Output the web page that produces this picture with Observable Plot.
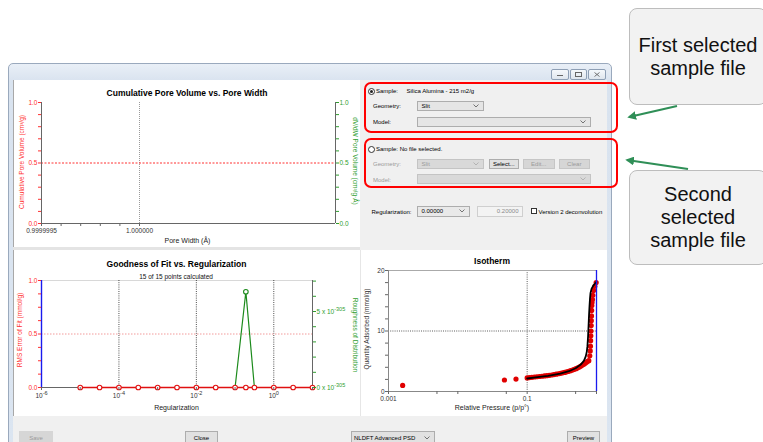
<!DOCTYPE html>
<html><head><meta charset="utf-8">
<script src="https://cdn.jsdelivr.net/npm/d3@7"></script>
<script src="https://cdn.jsdelivr.net/npm/@observablehq/plot@0.6"></script>
<style>
html,body{margin:0;padding:0;background:#fff;width:763px;height:442px;overflow:hidden;font-family:Arial,"Liberation Sans",sans-serif;}
#root{position:relative;width:763px;height:442px;overflow:hidden;}
.abs{position:absolute;}
.t{position:absolute;transform:translate(-50%,-50%);white-space:nowrap;line-height:1;}
.title{font-weight:bold;font-size:8.5px;color:#000;}
.al{font-size:7px;color:#222;}
.yl{font-size:6.5px;}
.ui{position:absolute;font-size:6px;color:#000;white-space:nowrap;line-height:1;}
.dd{position:absolute;box-sizing:border-box;border:1px solid #adadad;background:#e5e5e5;font-size:6px;line-height:1;padding-left:4px;display:flex;align-items:center;}
.dd.dis{border-color:#c4c4c4;background:#d9d9d9;color:#9a9a9a;}
.dd svg{position:absolute;right:4px;top:50%;margin-top:-2px;}
.btn{position:absolute;box-sizing:border-box;border:1px solid #adadad;background:#e1e1e1;font-size:6px;display:flex;align-items:center;justify-content:center;line-height:1;}
.btn.dis{border-color:#c6c6c6;background:#d6d6d6;color:#9a9a9a;}
.wb{position:absolute;top:69px;height:9px;border:1px solid #8e9fb5;border-radius:2px;background:linear-gradient(#f5f8fb,#dfe6ee);}
.callout{position:absolute;box-sizing:border-box;background:#f2f2f2;border:1px solid #bdbdbd;border-radius:8px;font-size:20px;line-height:23px;color:#111;display:flex;align-items:center;justify-content:center;text-align:center;}
</style></head><body>
<div id="root">
  <!-- window frame -->
  <div class="abs" style="left:8px;top:63px;width:602px;height:400px;border:1px solid #9aa9bd;border-radius:5px 5px 0 0;background:linear-gradient(#e9eff7,#d9e3ef 17px,#dbe5f1);"></div>
  <div class="wb" style="left:551px;width:16px;"><div class="abs" style="left:5px;top:5px;width:6px;height:1px;background:#666;"></div></div>
  <div class="wb" style="left:570px;width:15px;"><div class="abs" style="left:4px;top:2px;width:5px;height:3px;border:1px solid #666;"></div></div>
  <div class="wb" style="left:588px;width:16px;"><svg class="abs" style="left:5px;top:2px;" width="6" height="5"><path d="M0.5 0.5L5.5 4.5M5.5 0.5L0.5 4.5" stroke="#666" stroke-width="0.9"/></svg></div>
  <!-- client -->
  <div class="abs" style="left:13px;top:80px;width:594px;height:370px;background:#f0f0f0;"></div>
  <div class="abs" style="left:13px;top:80px;width:347px;height:167px;background:#fff;border-left:1px solid #a8a8a8;box-sizing:border-box;"></div>
  <div class="abs" style="left:13px;top:247px;width:347px;height:3px;background:#e4e4e4;"></div>
  <div class="abs" style="left:13px;top:250px;width:347px;height:166px;background:#fff;border-left:1px solid #a8a8a8;box-sizing:border-box;"></div>
  <div class="abs" style="left:360px;top:250px;width:247px;height:166px;background:#fff;border-left:1px solid #e6e6e6;box-sizing:border-box;"></div>

  <!-- chart texts -->
  <div class="t title" style="left:187px;top:93px;">Cumulative Pore Volume vs. Pore Width</div>
  <div class="t al" style="left:187.5px;top:239.5px;">Pore Width (Å)</div>
  <div class="t yl" style="left:22px;top:162px;transform:translate(-50%,-50%) rotate(-90deg);color:#ff3030;">Cumulative Pore Volume (cm³/g)</div>
  <div class="t yl" style="left:355px;top:161px;transform:translate(-50%,-50%) rotate(90deg);color:#2f9e2f;">dV/dW Pore Volume (cm³/g·Å)</div>

  <div class="t title" style="left:176.5px;top:263.5px;">Goodness of Fit vs. Regularization</div>
  <div class="t" style="left:176px;top:276.5px;font-size:6.5px;color:#111;">15 of 15 points calculated</div>
  <div class="t al" style="left:176.5px;top:406.5px;">Regularization</div>
  <div class="t yl" style="left:20px;top:330px;transform:translate(-50%,-50%) rotate(-90deg);color:#ff3030;">RMS Error of Fit (mmol/g)</div>
  <div class="t yl" style="left:355px;top:335px;transform:translate(-50%,-50%) rotate(90deg);color:#2f9e2f;">Roughness of Distribution</div>

  <div class="t title" style="left:492px;top:261px;">Isotherm</div>
  <div class="t al" style="left:492px;top:407px;">Relative Pressure (p/p°)</div>
  <div class="t yl" style="left:367px;top:329px;transform:translate(-50%,-50%) rotate(-90deg);color:#333;">Quantity Adsorbed (mmol/g)</div>

  <!-- right panel controls -->
  <div class="abs" style="left:367.5px;top:88px;width:5px;height:5px;border:1px solid #333;border-radius:50%;background:#fff;"><div class="abs" style="left:1px;top:1px;width:3px;height:3px;border-radius:50%;background:#222;"></div></div>
  <div class="ui" style="left:376px;top:88px;">Sample:</div>
  <div class="ui" style="left:406.5px;top:88px;">Silica Alumina - 215 m2/g</div>
  <div class="ui" style="left:373px;top:102.5px;">Geometry:</div>
  <div class="dd" style="left:416.5px;top:100.5px;width:67px;height:10.5px;">Slit<svg width="6" height="4"><path d="M0.5 0.5L3 3L5.5 0.5" fill="none" stroke="#555" stroke-width="0.8"/></svg></div>
  <div class="ui" style="left:373px;top:118.5px;">Model:</div>
  <div class="dd" style="left:416.5px;top:116.5px;width:174px;height:10px;"><svg width="6" height="4"><path d="M0.5 0.5L3 3L5.5 0.5" fill="none" stroke="#555" stroke-width="0.8"/></svg></div>

  <div class="abs" style="left:367.5px;top:146px;width:5px;height:5px;border:1px solid #333;border-radius:50%;background:#fff;"></div>
  <div class="ui" style="left:376px;top:146px;">Sample: No file selected.</div>
  <div class="ui" style="left:373px;top:160.5px;color:#9a9a9a;">Geometry:</div>
  <div class="dd dis" style="left:416.5px;top:158.5px;width:67px;height:10.5px;">Slit<svg width="6" height="4"><path d="M0.5 0.5L3 3L5.5 0.5" fill="none" stroke="#aaa" stroke-width="0.8"/></svg></div>
  <div class="btn" style="left:489px;top:158.5px;width:29.5px;height:10.5px;">Select...</div>
  <div class="btn dis" style="left:522.5px;top:158.5px;width:32.5px;height:10.5px;">Edit...</div>
  <div class="btn dis" style="left:558.5px;top:158.5px;width:31.5px;height:10.5px;">Clear</div>
  <div class="ui" style="left:373px;top:176.5px;color:#9a9a9a;">Model:</div>
  <div class="dd dis" style="left:416.5px;top:174px;width:174px;height:10px;"><svg width="6" height="4"><path d="M0.5 0.5L3 3L5.5 0.5" fill="none" stroke="#aaa" stroke-width="0.8"/></svg></div>

  <div class="ui" style="left:371.5px;top:208.5px;">Regularization:</div>
  <div class="dd" style="left:416.5px;top:205.5px;width:53px;height:11px;background:#e9e9e9;">0.00000<svg width="6" height="4"><path d="M0.5 0.5L3 3L5.5 0.5" fill="none" stroke="#555" stroke-width="0.8"/></svg></div>
  <div class="dd" style="left:477px;top:205.5px;width:45.5px;height:11px;background:#f3f3f3;border-color:#cfcfcf;color:#8a8a8a;justify-content:flex-end;padding-right:3px;">0.20000</div>
  <div class="abs" style="left:530.5px;top:207.5px;width:6px;height:6px;border:1px solid #333;background:#fff;box-sizing:border-box;"></div>
  <div class="ui" style="left:538.5px;top:208.5px;">Version 2 deconvolution</div>

  <!-- bottom bar -->
  <div class="btn dis" style="left:19px;top:431px;width:34px;height:14px;border:none;">Save</div>
  <div class="btn" style="left:185px;top:431px;width:33px;height:14px;">Close</div>
  <div class="dd" style="left:351px;top:431px;width:84px;height:14px;background:#e1e1e1;padding-left:2px;">NLDFT Advanced PSD<svg width="6" height="4"><path d="M0.5 0.5L3 3L5.5 0.5" fill="none" stroke="#555" stroke-width="0.8"/></svg></div>
  <div class="btn" style="left:567px;top:431px;width:33px;height:14px;">Preview</div>

  <!-- annotations -->
  <div class="abs" style="left:364px;top:82px;width:254px;height:51px;border:2px solid #ff0000;border-radius:7px;box-sizing:border-box;"></div>
  <div class="abs" style="left:364px;top:138px;width:254px;height:50px;border:2px solid #ff0000;border-radius:7px;box-sizing:border-box;"></div>
  <div class="callout" style="left:629px;top:8px;width:138px;height:97px;">First selected<br>sample file</div>
  <div class="callout" style="left:629px;top:170px;width:138px;height:95px;">Second<br>selected<br>sample file</div>
  <svg class="abs" style="left:0;top:0;" width="763" height="442">
    <defs><marker id="ah" viewBox="0 0 10 10" refX="8" refY="5" markerWidth="4" markerHeight="4" orient="auto"><path d="M0 0L10 5L0 10z" fill="#2f8f57"/></marker></defs>
    <line x1="677" y1="106" x2="629" y2="117" stroke="#2f8f57" stroke-width="2.2" marker-end="url(#ah)"/>
    <line x1="688" y1="169" x2="627" y2="160" stroke="#2f8f57" stroke-width="2.2" marker-end="url(#ah)"/>
  </svg>
</div>
<script>
// ---------- data ----------
const FONT = "Arial, 'Liberation Sans', sans-serif";

// Chart 1: Cumulative Pore Volume vs. Pore Width (empty)
const poreDomain = [0.9999995, 1.000001];
const poreTicks = [0.9999995, 0.9999996, 0.9999997, 0.9999998, 0.9999999, 1.0];
const poreTickLabels = ["0.9999995", "", "", "", "", "1.000000"];
const poreGridX = [1.0];
const cumTicks = [0, 0.1, 0.2, 0.3, 0.4, 0.5, 0.6, 0.7, 0.8, 0.9, 1.0];
const cumTickLabels = ["0.0", "", "", "", "", "0.5", "", "", "", "", "1.0"];
const cumGridY = [0.5];

// Chart 2: Goodness of Fit vs. Regularization
const regDomain = [1e-6, 10];
const regX = [0.00001, 0.0000316, 0.0001, 0.000316, 0.001, 0.00316, 0.01, 0.0316, 0.1, 0.19, 0.316, 1, 3.16, 10];
const rmsError = [0, 0, 0, 0, 0, 0, 0, 0, 0, 0, 0, 0, 0, 0];
const roughness = [0, 0, 0, 0, 0, 0, 0, 0, 0, 6.3, 0, 0, 0, 0]; // in units of 10^-305
const roughMax = 7.04;
const regTicks = [1e-6, 1e-5, 1e-4, 1e-3, 1e-2, 1e-1, 1, 10];
const regTickLabels = ["10^-6", "", "10^-4", "", "10^-2", "", "10^0", ""];
const regGridX = [1e-4, 1e-2, 1];
const rmsTicks = [0, 0.125, 0.25, 0.375, 0.5, 0.625, 0.75, 0.875, 1];
const rmsTickLabels = ["0.0", "", "", "", "0.5", "", "", "", "1.0"];
const roughTicks = [0, 1, 2, 3, 4, 5, 6, 7];
const roughTickLabels = ["0 x 10^-305", "", "", "", "", "5 x 10^-305", "", ""];

// Chart 3: Isotherm
const isoDomain = [0.001, 1];
const isoP = [0.0016, 0.047, 0.069, 0.100, 0.108, 0.117, 0.127, 0.138, 0.150, 0.163, 0.177, 0.192, 0.208, 0.225, 0.243, 0.262, 0.282, 0.303, 0.325, 0.348, 0.372, 0.397, 0.423, 0.450, 0.478, 0.507, 0.536, 0.566, 0.596, 0.626, 0.656, 0.686, 0.716, 0.745, 0.774, 0.800, 0.812, 0.818, 0.823, 0.828, 0.833, 0.838, 0.842, 0.847, 0.851, 0.856, 0.862, 0.875, 0.885, 0.905, 0.946, 0.989];
const isoQ = [1.0, 1.9, 2.05, 2.25, 2.3, 2.35, 2.4, 2.44, 2.48, 2.52, 2.57, 2.62, 2.67, 2.73, 2.79, 2.86, 2.93, 3.0, 3.08, 3.16, 3.25, 3.34, 3.44, 3.55, 3.66, 3.78, 3.91, 4.05, 4.2, 4.36, 4.52, 4.68, 4.85, 5.0, 5.1, 5.9, 6.7, 7.5, 8.4, 9.2, 10.0, 10.9, 11.7, 12.5, 13.4, 14.2, 14.7, 15.2, 15.9, 16.7, 17.4, 18.0];
const fitP = [0.100, 0.150, 0.200, 0.300, 0.400, 0.500, 0.600, 0.660, 0.700, 0.725, 0.740, 0.755, 0.768, 0.780, 0.792, 0.805, 0.820, 0.850, 0.900, 0.960, 0.995];
const fitQ = [2.15, 2.4, 2.6, 2.95, 3.35, 3.85, 4.5, 5.1, 5.8, 6.6, 7.5, 9.0, 10.8, 12.6, 14.0, 15.3, 16.3, 17.0, 17.5, 17.9, 18.1];
const isoXTicks = [0.001, 0.005, 0.01, 0.05, 0.1, 0.5, 1];
const isoXTickLabels = ["0.001", "", "", "", "0.1", "", ""];
const isoGridX = [0.1];
const isoYTicks = [0, 2, 4, 6, 8, 10, 12, 14, 16, 18, 20];
const isoYTickLabels = ["0", "", "", "", "", "10", "", "", "", "", "20"];
const isoGridY = [10];

// ---------- helpers ----------
const lab = (ticks, labels) => { const m = new Map(ticks.map((t, i) => [t, labels[i]])); return d => m.get(d) ?? ""; };
const style = {background: "transparent", fontFamily: FONT, fontSize: "6.5px", overflow: "visible"};
const RED = "#ff3030", GREEN = "#2f9e2f", AX = "#666";
function superscripts(svg) {
  d3.select(svg).selectAll("text").each(function () {
    const s = this.textContent;
    if (!s.includes("^")) return;
    const [base, exp] = s.split("^");
    const el = d3.select(this);
    el.text(null);
    el.append("tspan").text(base);
    el.append("tspan").attr("dy", "-0.5em").attr("font-size", "0.85em").text(exp);
  });
}
function place(svg, left, top) {
  superscripts(svg);
  svg.style.position = "absolute"; svg.style.left = left + "px"; svg.style.top = top + "px";
  document.getElementById("root").insertBefore(svg, document.querySelector(".t"));
}

// ---------- chart 1 ----------
const c1 = Plot.plot({
  width: 346, height: 162, marginLeft: 27, marginRight: 25, marginTop: 16, marginBottom: 25, style,
  x: {domain: poreDomain}, y: {domain: [0, 1]},
  marks: [
    Plot.ruleX(poreGridX, {stroke: "#9a9a9a", strokeDasharray: "1,1"}),
    Plot.ruleY(cumGridY, {stroke: RED, strokeDasharray: "2,1.5"}),
    Plot.ruleY([0], {stroke: AX}),
    Plot.ruleX([poreDomain[0]], {stroke: AX}),
    Plot.ruleX([poreDomain[1]], {stroke: AX}),
    Plot.axisX({ticks: poreTicks, tickFormat: lab(poreTicks, poreTickLabels), tickSize: 3, tickPadding: 2, stroke: AX, fill: "#333", label: null}),
    Plot.axisY({ticks: cumTicks, tickFormat: lab(cumTicks, cumTickLabels), tickSize: 3, tickPadding: 1, stroke: RED, fill: RED, label: null}),
    Plot.axisY({anchor: "right", ticks: cumTicks, tickFormat: lab(cumTicks, cumTickLabels), tickSize: 3, tickPadding: 1, stroke: GREEN, fill: GREEN, label: null})
  ]
});
place(c1, 14, 86);

// ---------- chart 2 ----------
const regData = regX.map((x, i) => ({x, rms: rmsError[i], rough: roughness[i] / roughMax}));
const roughTickPos = roughTicks.map(t => t / roughMax);
const c2 = Plot.plot({
  width: 346, height: 163, marginLeft: 27, marginRight: 48, marginTop: 30, marginBottom: 26, style,
  x: {type: "log", domain: regDomain}, y: {domain: [0, 1]},
  marks: [
    Plot.ruleY([1], {stroke: "#d8d8d8"}),
    Plot.ruleX(regGridX, {stroke: "#222", strokeDasharray: "1,1.2", strokeWidth: 0.8}),
    Plot.ruleY([0.5], {stroke: "#f29a9a", strokeDasharray: "1.5,1.5"}),
    Plot.ruleY([0], {stroke: AX}),
    Plot.ruleX([regDomain[1]], {stroke: AX}),
    Plot.ruleX([regDomain[0]], {stroke: "#1a1aee", strokeWidth: 1.4}),
    Plot.line(regData, {x: "x", y: "rough", stroke: "#1b8a1b", strokeWidth: 1.2}),
    Plot.dot(regData, {filter: d => d.rough > 0, x: "x", y: "rough", r: 2.3, stroke: "#1b8a1b", fill: "#fff", strokeWidth: 1.1}),
    Plot.line(regData, {x: "x", y: "rms", stroke: "#e01010", strokeWidth: 1.6}),
    Plot.dot(regData, {x: "x", y: "rms", r: 2.3, stroke: "#e01010", fill: "#fff", strokeWidth: 1.1}),
    Plot.axisX({ticks: regTicks, tickFormat: lab(regTicks, regTickLabels), tickSize: 3, tickPadding: 3, stroke: AX, fill: "#333", label: null}),
    Plot.axisY({ticks: rmsTicks, tickFormat: lab(rmsTicks, rmsTickLabels), tickSize: 3, tickPadding: 1, stroke: RED, fill: RED, label: null}),
    Plot.axisY({anchor: "right", ticks: roughTickPos, tickFormat: d => roughTickLabels[Math.round(d * roughMax)] ?? "", tickSize: 3, tickPadding: 1, stroke: GREEN, fill: GREEN, label: null})
  ]
});
place(c2, 14, 250);

// ---------- chart 3 ----------
const isoData = isoP.map((p, i) => ({p, q: isoQ[i]}));
const fitData = fitP.map((p, i) => ({p, q: fitQ[i]}));
const c3 = Plot.plot({
  width: 246, height: 163, marginLeft: 28, marginRight: 10, marginTop: 20, marginBottom: 22, style,
  x: {type: "log", domain: isoDomain}, y: {domain: [0, 20]},
  marks: [
    Plot.ruleX(isoGridX, {stroke: "#333", strokeDasharray: "1,1.2", strokeWidth: 0.8}),
    Plot.ruleY(isoGridY, {stroke: "#333", strokeDasharray: "1,1.2", strokeWidth: 0.8}),
    Plot.ruleY([20], {stroke: "#aaa"}),
    Plot.ruleY([0], {stroke: "#888"}),
    Plot.ruleX([isoDomain[0]], {stroke: "#888"}),
    Plot.dot(isoData, {x: "p", y: "q", r: 2.6, fill: "#e00000"}),
    Plot.line(fitData, {x: "p", y: "q", stroke: "#000", strokeWidth: 1.8}),
    Plot.ruleX([isoDomain[1]], {stroke: "#1a1aee", strokeWidth: 1.3}),
    Plot.axisX({ticks: isoXTicks, tickFormat: lab(isoXTicks, isoXTickLabels), tickSize: 3, tickPadding: 2, stroke: AX, fill: "#333", label: null}),
    Plot.axisY({ticks: isoYTicks, tickFormat: lab(isoYTicks, isoYTickLabels), tickSize: 3, tickPadding: 1, stroke: AX, fill: "#333", label: null})
  ]
});
place(c3, 360, 250);
</script>
</body></html>
